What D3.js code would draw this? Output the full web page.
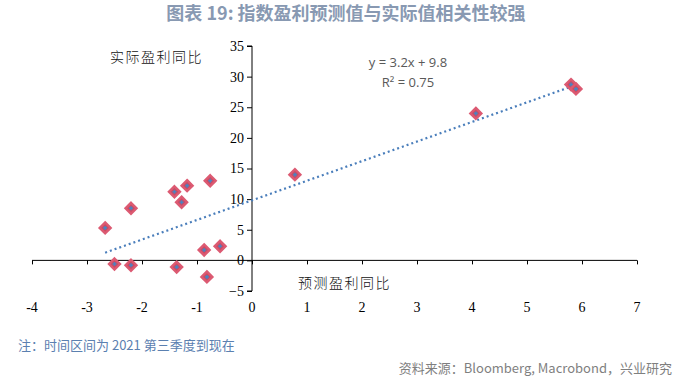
<!DOCTYPE html>
<html>
<head>
<meta charset="utf-8">
<script src="https://cdn.jsdelivr.net/npm/d3@7"></script>
<style>
  html, body { margin: 0; padding: 0; background: #fff; }
  svg { display: block; }
</style>
</head>
<body>
<svg id="chart" width="693" height="382"></svg>
<script>
// ---- data ----
const predicted = [-2.67, -2.50, -2.20, -2.20, -1.41, -1.18, -1.28, -1.37, -0.76, -0.87, -0.58, -0.82, 0.78, 4.07, 5.80, 5.89];
const actual    = [ 5.3,  -0.6,   8.5,  -0.8,  11.2,  12.2,   9.5,  -1.1,  13.0,   1.7,   2.3,  -2.7, 14.0, 24.0, 28.7, 28.0];
const xTicks = [-4, -3, -2, -1, 0, 1, 2, 3, 4, 5, 6, 7];
const yTicks = [-5, 0, 5, 10, 15, 20, 25, 30, 35];
const slope = 3.2, intercept = 9.8;
const eqLabel = "y = 3.2x + 9.8";
const r2Label = "R² = 0.75";
const title = "图表 19: 指数盈利预测值与实际值相关性较强";
const yTitle = "实际盈利同比";
const xTitle = "预测盈利同比";
const note = "注：时间区间为 2021 第三季度到现在";
const source = "资料来源：Bloomberg, Macrobond，兴业研究";

// ---- drawing ----
const svg = d3.select("#chart");
const x = d3.scaleLinear().domain([-4, 7]).range([32, 637]);
const y = d3.scaleLinear().domain([-5, 35]).range([291, 46]);

const cjk = "'Noto Sans CJK SC', 'Noto Sans', sans-serif";
const serif = "'Liberation Serif', 'DejaVu Serif', serif";

svg.append("text").attr("x", 346).attr("y", 20).attr("text-anchor", "middle")
  .attr("font-family", cjk).attr("font-weight", "bold").attr("font-size", 18)
  .attr("fill", "#8899b2").text(title);

// y axis at x=0
const yAxis = d3.axisLeft(y).tickValues(yTicks).tickSize(5).tickPadding(3).tickFormat(d3.format("d"));
const gy = svg.append("g").attr("transform", `translate(${x(0)},0)`).call(yAxis);
gy.select(".domain").attr("stroke", "#000").attr("d", `M-5,${y(35)}H0V${y(-5)}H-5`);
gy.selectAll(".tick line").attr("stroke", "#000");
gy.selectAll(".tick text").attr("font-family", serif).attr("font-size", 14).attr("fill", "#000");

// x axis at y=0 with labels at bottom
const xAxis = d3.axisBottom(x).tickValues(xTicks).tickSize(4).tickFormat("");
const gx = svg.append("g").attr("transform", `translate(0,${y(0)})`).call(xAxis);
gx.select(".domain").attr("stroke", "#000").attr("d", `M${x(-4)},0H${x(7)}`);
gx.selectAll(".tick line").attr("stroke", "#000");

svg.append("g").selectAll("text").data(xTicks).join("text")
  .attr("x", d => x(d)).attr("y", 312).attr("text-anchor", "middle")
  .attr("font-family", serif).attr("font-size", 14).attr("fill", "#000")
  .text(d => d);

// axis titles
svg.append("text").attr("x", 110).attr("y", 62).attr("font-family", cjk).attr("font-size", 14)
  .attr("font-weight", 300).attr("letter-spacing", 1.5).attr("fill", "#111").text(yTitle);
svg.append("text").attr("x", 298).attr("y", 288).attr("font-family", cjk).attr("font-size", 14)
  .attr("font-weight", 300).attr("letter-spacing", 1.5).attr("fill", "#111").text(xTitle);

// trendline
const xmin = d3.min(predicted), xmax = d3.max(predicted);
svg.append("line")
  .attr("x1", x(xmin)).attr("y1", y(slope * xmin + intercept))
  .attr("x2", x(xmax)).attr("y2", y(slope * xmax + intercept))
  .attr("stroke", "#4a7ebb").attr("stroke-width", 2.2).attr("stroke-dasharray", "2 3");

// points
const pts = predicted.map((p, i) => ({ px: p, ay: actual[i] }));
const diamond = "M0,-5.5L5.5,0L0,5.5L-5.5,0Z";
const gp = svg.append("g").selectAll("g").data(pts).join("g")
  .attr("transform", d => `translate(${x(d.px)},${y(d.ay)})`);
gp.append("path").attr("d", diamond).attr("fill", "#cc4a62").attr("stroke", "#dc5a72").attr("stroke-width", 2.4);
gp.append("path").attr("d", "M-2,0H2M0,-2V2").attr("stroke", "#4f81bd").attr("stroke-width", 1.6);

// equation
svg.append("text").attr("x", 408).attr("y", 67).attr("text-anchor", "middle")
  .attr("font-family", "'Open Sans', 'Liberation Sans', sans-serif").attr("font-size", 13)
  .attr("fill", "#595959").text(eqLabel);
svg.append("text").attr("x", 408).attr("y", 87).attr("text-anchor", "middle")
  .attr("font-family", "'Open Sans', 'Liberation Sans', sans-serif").attr("font-size", 13)
  .attr("fill", "#595959").text(r2Label);

// notes
svg.append("text").attr("x", 18).attr("y", 350).attr("font-family", cjk).attr("font-size", 13)
  .attr("fill", "#5b80b0").text(note);
svg.append("text").attr("x", 672).attr("y", 373).attr("text-anchor", "end")
  .attr("font-family", cjk).attr("font-size", 13).attr("fill", "#7f7f7f").text(source);
</script>
</body>
</html>
